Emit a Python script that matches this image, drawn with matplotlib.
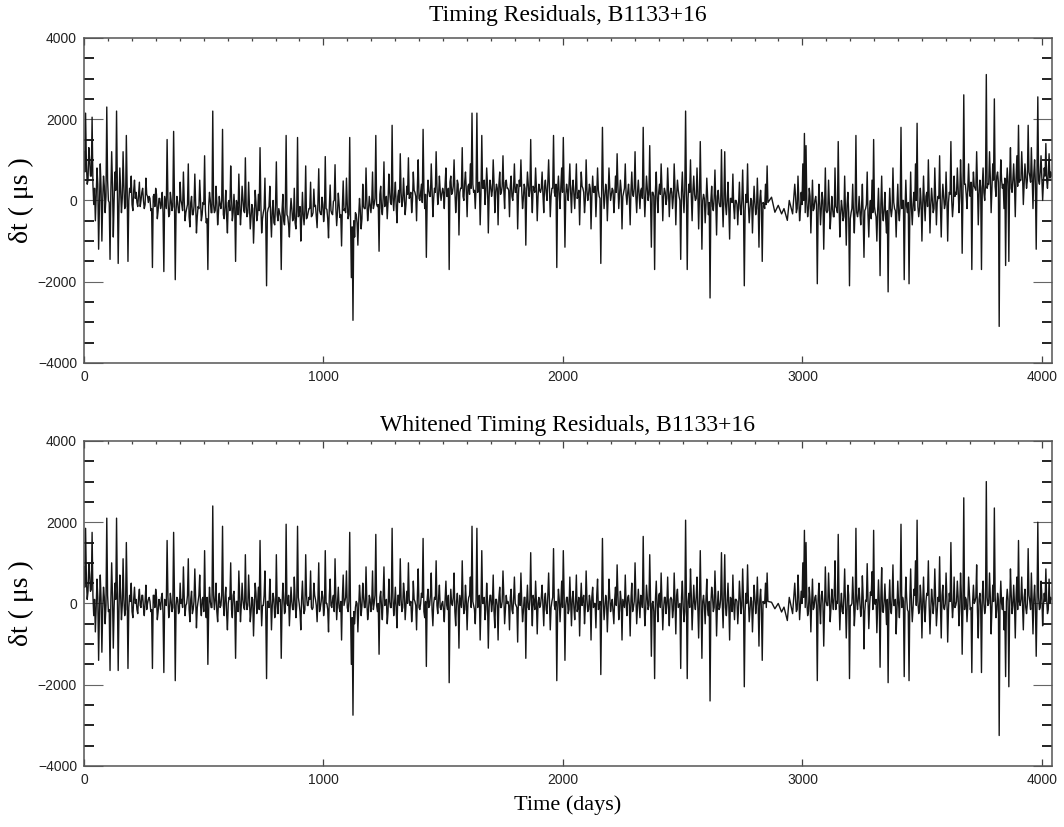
import numpy as np
import matplotlib.pyplot as plt
from matplotlib.ticker import MultipleLocator

plt.rcParams['font.family'] = 'Liberation Serif'

# timing residuals in microseconds, one row per ~136 days
res_early = [
    1200, 2150, 400, 1300, 600, 2050, -100, -500, 800, -1200, 900, -1000, 600, -300, 2300, 0, -1450, 1200, -900, 700,
    2200, -1550, 800, -300, 1200, -200, 1600, -1500, 300, 600, -250, 500, 200, -150, 450, 0, 300, -200, 550, 100,
    100, -250, -1650, 150, 300, -450, 50, -200, 200, -1750, -50, 1500, -400, 200, -250, 1700, -1950, 100, -300, 450,
    -100, 700, -500, -200, 900, -650, 100, -350, 650, -800, -150, 500, -500, -50, 1100, -550, -1700, 200, -300, 2200,
    -300, 350, -600, 100, -200, 1750, -450, 250, -800, 0, 850, -500, 150, -1500, -100, 650, -600, 350, -250, 1050,
    -400, 450, -700, -100, -1050, 250, -500, 150, 1300, -800, -300, 550, -2100, -200, 350, -900, 0, -600, 950, -500,
    -300, -1700, 150, -600, 1600, -400, -900, 50, -500, 300, -700, 1550, -350, -1000, 200, -600, 850, -400, -200, 450,
    -370, 280, -120, -670, 780, -320, 80, -520, 1080, -220, -920, 380, -320, -20, 880, -620, 180, -420, -1120, 480,
    -200, 550, -450, 1550, -1900, -2950, -900, -350, -1100, 50, -700, 400, -200, 800, -500, 100, -300, 700, -100, 1600,
    -150, -1250, 350, -350, 950, 50, -450, 650, -50, 1850, -250, 450, -550, 250, 1150, -150, 550, -350, 350, 1050,
    100, -300, 700, 200, -500, 1000, 0, 400, 1750, -200, -1400, 500, 100, 900, -400, 300, 1200, -100, 600, 0,
    300, -200, 800, 100, -1700, 600, 200, 1000, -300, 500, -850, 300, 1300, 0, 700, -400, 400, 900, 2150, 200,
    -200, 2150, 400, -600, 1600, 300, -100, 800, -800, 500, 100, 1000, -300, 400, -600, 700, 200, 1100, -200, 500,
    300, -400, 600, 0, 900, 200, -700, 500, 1000, -200, 400, -1100, 700, 100, 1500, -300, 300, 800, -500, 400,
    200, 700, -300, 500, 0, 1000, -400, 300, 1600, 100, -1650, 600, -200, 800, 1550, -1150, 400, 0, 900, -300,
    500, -200, 900, 100, -600, 700, 300, -300, 1000, 0, 400, -700, 600, 200, -400, 800, 100, -1550, 1800, -200,
    400, -500, 800, 0, 300, -300, 600, 1150, -200, 500, -700, 200, 900, -100, 400, -600, 700, 100, 1200, -300,
    500, -200, 300, 1800, -400, 600, 0, 1350, -1150, 200, -1700, 700, -300, 400, 900, -500, 300, -100, 800, -400,
    300, -200, 900, -600, 500, 100, -1450, 700, -300, 2200, -1700, 400, 1000, -500, 600, 0, 800, -700, 1450, -1200,
    150, -550, 550, -350, -2400, 350, -250, 750, -850, 250, -150, 1250, -650, 1200, -350, 450, -950, 50, 650, -450,
    0, -600, 450, -350, 750, -2100, 150, 900, -550, 50, -800, 350, -350, 550, -1150, 250, -1500, -100, 400, 850,
]
# epochs falling between the ones above
res_early_mid = [
    700, 900, 500, 1000, 600, 400, 300, 100, 400, -100, 300, 0, 350, 100, 500, -50, 200, 400, 0, 250,
    300, -100, 250, 50, 350, -150, 300, 0, 200, -100, 250, 50, -50, 150, -150, 200, 0, -100, 150, -50,
    50, -200, 100, -150, 150, -250, 50, -100, -300, 100, -200, 50, -350, 0, -150, 100, -250, -50, -300, 0,
    -250, 0, -300, -100, -400, -50, -350, -150, -50, -400, -200, 0, -350, -100, -250, -450, -150, 0, -300, -100,
    -250, -50, -300, -100, 0, -350, -150, -400, -50, -250, 100, -300, -200, 0, -350, -100, -250, 50, -300, -150,
    -300, -100, -400, -200, -450, -50, -350, -250, -100, -450, -200, -500, -300, -150, -400, -250, -550, -100, -350, -200,
    -400, -250, -500, -150, -350, -600, -300, -200, -450, -550, -250, -400, -150, -500, -350, -250, -450, -300, -200, -400,
    -300, -150, -400, -50, -250, -350, -100, -300, -200, -450, -150, -250, -350, 0, -200, -300, -100, -350, -150, -250,
    -300, -100, -350, -450, -650, -500, -300, -550, -400, -250, -450, -150, -200, 0, -250, -100, -50, -200, 50, -100,
    -100, 150, -200, 50, -150, 100, -50, 200, -100, 50, 150, -150, 100, -50, 200, 0, 100, -100, 150, 50,
    200, 0, 250, 100, 350, 50, 200, -50, 300, 150, 0, 250, 100, 300, 50, 200, 350, 100, 250, 150,
    200, 400, 100, 300, 450, 150, 350, 250, 50, 400, 200, 300, 100, 450, 250, 350, 150, 300, 400, 250,
    350, 200, 450, 150, 300, 500, 250, 400, 100, 350, 250, 450, 200, 300, 400, 150, 350, 250, 450, 300,
    250, 350, 100, 300, 200, 400, 150, 350, 250, 50, 300, 200, 400, 250, 150, 350, 200, 300, 100, 250,
    300, 150, 350, 200, 450, 250, 100, 300, 200, 400, 250, 150, 350, 200, 300, 100, 250, 400, 200, 300,
    150, 300, 50, 250, 150, 350, 200, 0, 250, 150, 300, 100, 200, 350, 150, 250, 50, 200, 300, 100,
    250, 100, 300, 150, 250, 50, 200, 350, 150, 250, 100, 300, 150, 200, 50, 250, 150, 300, 100, 200,
    150, 250, 50, 200, 100, 300, 150, 0, 200, 100, 250, 50, 200, 150, 300, 100, 200, 50, 250, 150,
    200, 100, 300, 150, 250, 0, 200, 100, 250, 150, 50, 200, 100, 250, 150, 50, 200, 100, 150, 0,
    50, -100, 100, -50, 0, -150, 50, -100, 100, -50, -150, 0, 50, -100, 0, -200, 50, -50, -150, 0,
    -100, -50, -200, 0, -150, -250, -50, -100, -200, 0, -150, -50, -200, -100, 0, -150, -50, -200, -100, -50,
]
res_gap = [80, -290, -120, -330, -200, -490, 0, -330]
res_late = [
    400, -300, 600, -500, 200, 900, 1650, 1350, -400, 300, -800, 500, -200, 100, -2050, 400, -600, 200, -1200, 800,
    -300, 500, -700, 100, -400, 800, -200, 1450, -900, 0, -500, 600, -1100, 200, -2100, -300, 400, -800, 1600, -400,
    100, -600, 400, -1400, -200, 700, -900, 0, 500, 1500, -300, -1000, 300, -1850, 600, -500, 200, -800, -2250, 300,
    -400, 800, -200, -900, 400, -500, 1800, 0, -1950, 500, -300, -2050, 700, -600, 200, 900, 1900, -400, 300, -1000,
    600, -500, 200, 1000, -800, 300, -300, 800, -600, 100, 1100, -900, 400, -200, 700, -1000, 200, 1450, -400, 600,
    200, 800, -300, 1000, -1300, 2600, 400, -200, 900, 100, -1700, 700, 300, 1200, -600, 500, -1700, 800, 0, 3100,
    400, 1200, -300, 900, 2500, 100, 700, -3100, 1000, 300, -200, -1600, 800, -1500, 1300, 200, 900, -400, 1100, 1850,
    500, 1200, -100, 900, 300, 1850, 600, 1300, -200, 1000, -1200, 2550, 400, 1100, 0, 800, 1400, 300, 1150, 700,
]
res_late_mid = [
    100, -200, 50, -250, -100, 0, -300, -50, -200, 100, -150, -250, 0, -100, -300, -50, -200, 0, -150, -250,
    -250, -100, -350, -200, -400, -150, -300, -50, -350, -200, -400, -250, -100, -300, -450, -200, -350, -150, -300, -250,
    -300, -150, -400, -250, -100, -350, -200, -450, -300, -150, -400, -250, -350, -100, -300, -200, -450, -250, -350, -200,
    -200, -50, -250, -150, -300, -100, -200, 0, -250, -150, -50, -300, -200, -100, -250, 0, -150, -200, -50, -100,
    -50, 100, -150, 50, -100, 0, -200, 100, -50, 50, -150, 0, 100, -100, 50, -50, 150, 0, -100, 100,
    150, 300, 100, 350, 200, 400, 150, 300, 250, 450, 200, 350, 250, 400, 150, 300, 350, 200, 400, 300,
    400, 550, 300, 500, 350, 600, 450, 250, 500, 400, 550, 350, 450, 600, 300, 500, 400, 550, 350, 450,
    500, 650, 400, 600, 500, 700, 450, 550, 650, 400, 600, 500, 700, 550, 450, 600, 500, 650, 550, 600,
]

# the same residuals after whitening
wht_early = [
    900, 1850, 100, 1000, 300, 1750, -300, -700, 600, -1400, 700, -1200, 400, -500, 2100, -200, -1650, 1000, -1100, 500,
    2100, -1650, 700, -400, 1100, -300, 1500, -1600, 200, 500, -350, 400, 100, -250, 350, -100, 200, -300, 450, 0,
    150, -200, -1600, 200, 350, -400, 100, -150, 250, -1700, 0, 1550, -350, 250, -200, 1750, -1900, 150, -250, 500,
    100, 900, -300, 0, 1100, -450, 300, -150, 850, -600, 50, 700, -300, 150, 1300, -350, -1500, 400, -100, 2400,
    -150, 500, -450, 250, -50, 1900, -300, 400, -650, 150, 1000, -350, 300, -1350, 50, 800, -450, 500, -100, 1200,
    -150, 700, -450, 150, -800, 500, -250, 400, 1550, -550, -50, 800, -1850, 50, 600, -650, 250, -350, 1200, -250,
    50, -1350, 500, -250, 1950, -50, -550, 400, -150, 650, -350, 1900, 0, -650, 550, -250, 1200, -50, 150, 800,
    -150, 500, 100, -450, 1000, -100, 300, -300, 1300, 0, -700, 600, -100, 200, 1100, -400, 400, -200, -900, 700,
    50, 800, -200, 1750, -1500, -2750, -500, 50, -700, 450, -300, 500, -100, 900, -400, 200, -200, 800, 0, 1700,
    -200, -1250, 300, -400, 900, 0, -500, 600, -100, 1850, -300, 400, -600, 200, 1100, -200, 500, -400, 300, 1000,
    -50, -450, 550, 50, -650, 850, -150, 250, 1600, -350, -1550, 350, -50, 750, -550, 150, 1050, -250, 450, -150,
    50, -450, 550, -150, -1950, 350, -50, 750, -550, 250, -1100, 50, 1050, -250, 450, -650, 150, 650, 1900, -50,
    -500, 1850, 100, -900, 1300, 0, -400, 500, -1100, 200, -200, 700, -600, 100, -900, 400, -100, 800, -500, 200,
    50, -650, 350, -250, 650, -50, -950, 250, 750, -450, 150, -1350, 450, -150, 1250, -550, 50, 550, -750, 150,
    -50, 450, -550, 250, -250, 750, -650, 50, 1350, -150, -1900, 350, -450, 550, 1300, -1400, 150, -250, 650, -550,
    300, -400, 700, -100, -800, 500, 100, -500, 800, -200, 200, -900, 400, 0, -600, 600, -100, -1750, 1600, -400,
    200, -700, 600, -200, 100, -500, 400, 950, -400, 300, -900, 0, 700, -300, 200, -800, 500, -100, 1000, -500,
    350, -350, 150, 1650, -550, 450, -150, 1200, -1300, 50, -1850, 550, -450, 250, 750, -650, 150, -250, 650, -550,
    150, -350, 750, -750, 350, -50, -1600, 550, -450, 2050, -1850, 250, 850, -650, 450, -150, 650, -850, 1300, -1350,
    200, -500, 600, -300, -2400, 400, -200, 800, -800, 300, -100, 1250, -600, 1200, -300, 500, -900, 100, 700, -400,
    100, -500, 550, -250, 850, -2050, 250, 950, -450, 150, -700, 450, -250, 650, -1050, 350, -1400, 0, 500, 750,
]
wht_early_mid = [
    400, 600, 300, 700, 350, 200, 100, -100, 150, -200, 100, -150, 150, -50, 200, -150, 50, 200, -100, 100,
    150, -100, 200, -50, 100, -150, 250, -100, 50, -200, 100, 0, -150, 150, -50, 200, -100, 50, -150, 100,
    50, -150, 200, -100, 150, -200, 0, 150, -250, 100, -50, 200, -150, 50, -100, 250, -50, 100, -200, 0,
    -100, 150, -50, 200, -150, 100, -250, 50, 150, -100, 200, -50, 100, -200, 0, 150, -150, 50, -100, 200,
    100, -200, 50, -100, 200, -50, 150, -250, 0, 100, -150, 200, -100, 50, -200, 150, -50, 100, -150, 50,
    -50, 150, -200, 100, -100, 250, 0, -150, 100, -50, 200, -200, 50, -100, 150, -50, 100, -250, 0, 150,
    100, -50, 150, -200, 0, 200, -100, 50, -150, 100, -50, 150, -200, 100, 0, -150, 200, -50, 100, -100,
    -100, 200, -50, 100, -200, 50, 150, -100, 0, -150, 200, -50, 100, -200, 150, 0, -100, 50, 150, -50,
    150, -100, 50, -200, -350, -200, -100, 0, -150, 100, -50, 150, -100, 50, -200, 100, 0, -150, 200, -50,
    0, 150, -100, 200, -50, 100, -200, 50, -100, 150, 0, -150, 200, -50, 100, -100, 250, -50, 0, 100,
    50, -150, 100, -50, 200, -100, 0, 150, -200, 50, 100, -100, 200, -150, 0, 100, -50, 150, -100, 0,
    -150, 100, -50, 200, -100, 0, 150, -200, 50, -50, 200, -100, 100, -150, 50, 0, 200, -100, 50, -150,
    100, -100, 200, -50, 0, 150, -150, 50, -100, 200, 0, -200, 100, -50, 150, -100, 50, 200, -150, 0,
    -50, 150, -150, 100, 0, -100, 200, -50, 50, -200, 150, 0, -100, 100, -50, 200, -150, 50, 0, -100,
    150, -50, 100, -150, 200, 0, -100, 150, -50, 50, -200, 100, 0, -100, 200, -50, 150, -150, 50, 100,
    -100, 50, -200, 150, 0, -50, 200, -100, 100, -150, 50, 150, -100, 0, 200, -150, 50, -50, 100, -100,
    50, -100, 150, 0, -200, 100, -50, 200, -150, 50, 100, -100, 0, 150, -50, 100, -200, 50, 150, -50,
    0, 200, -100, 50, -150, 150, -50, 100, 0, -200, 100, -50, 200, -100, 50, -150, 150, 0, -100, 100,
    100, -150, 50, 200, -100, 0, 150, -50, -200, 100, 50, -100, 200, -50, 0, 150, -150, 100, -50, 50,
    -50, 100, -150, 50, 0, 200, -100, 150, -50, -150, 100, 0, 200, -100, 50, -50, 150, -200, 0, 100,
    50, -100, 150, -50, 100, -200, 0, 100, -150, 50, -100, 150, 0, -50, 100, -150, 50, 0, -100, 50,
]
wht_gap = [30, -130, 0, -210, -90, -420, 150, -250]
wht_late = [
    500, -200, 700, -400, 300, 1000, 1800, 1500, -300, 400, -700, 600, -100, 200, -1900, 500, -500, 300, -1050, 900,
    -50, 750, -450, 350, -150, 1050, 50, 1700, -650, 250, -250, 850, -850, 450, -1850, -50, 650, -550, 1850, -150,
    380, -320, 680, -1120, 80, 980, -620, 280, 780, 1800, -20, -720, 580, -1570, 880, -220, 480, -520, -1950, 580,
    -250, 950, -50, -750, 550, -350, 1950, 150, -1800, 650, -150, -1900, 850, -450, 350, 1050, 2050, -250, 450, -850,
    650, -450, 250, 1050, -750, 350, -250, 850, -550, 150, 1150, -850, 450, -150, 750, -950, 250, 1500, -350, 650,
    -50, 550, -550, 750, -1250, 2600, 150, -450, 650, -150, -1700, 450, 50, 950, -850, 250, -1700, 550, -250, 3000,
    -50, 750, -750, 450, 2350, -350, 250, -3250, 550, -150, -650, -1800, 350, -2050, 850, -250, 450, -850, 650, 1550,
    -50, 650, -650, 350, -250, 1350, 50, 750, -750, 450, -1300, 2000, -150, 550, -550, 250, 850, -250, 600, 150,
]
wht_late_mid = [
    100, -150, 200, -50, 0, 150, -100, 50, -200, 100, 0, -150, 150, -50, 100, -100, 200, 0, -150, 50,
    -50, 150, -100, 50, 200, -150, 0, 100, -50, -200, 150, 50, -100, 200, -50, 0, 100, -150, 50, 150,
    0, -100, 150, -200, 50, 100, -50, 200, -150, 0, 100, -100, 50, 150, -200, 50, -50, 100, 0, -150,
    150, -50, 100, -150, 0, 200, -100, 50, -50, 150, -200, 100, 0, -100, 200, -50, 50, -150, 100, 0,
    -100, 50, 200, -50, -150, 100, 0, 150, -200, 50, -50, 200, -100, 0, 150, -150, 50, 100, -50, -100,
    50, 150, -100, 200, 0, -150, 100, -50, 250, -100, 50, 0, 150, -200, 100, -50, 200, 0, -100, 150,
    0, 150, -100, 50, 200, -150, 100, -50, 0, 150, -200, 50, 100, -100, 200, -50, 0, 150, -150, 50,
    100, -50, 150, -100, 0, 200, -150, 50, 100, -50, 0, 150, -100, 200, -50, 50, 100, -150, 0, 100,
]

# observing epochs (days); sparse coverage between the two dense stretches
days_gap = [2871, 2885, 2899, 2913, 2923, 2937, 2945, 2959]


def interleave(a, b):
    out = np.empty(len(a) + len(b))
    out[0::2] = a
    out[1::2] = b
    return out


def series(early, early_mid, gap, late, late_mid):
    y_early = interleave(early, early_mid)
    y_late = interleave(late, late_mid)
    x = np.concatenate([np.linspace(0, 2856, len(y_early)), days_gap,
                        np.linspace(2968, 4040, len(y_late))])
    return x, np.concatenate([y_early, gap, y_late])


fig = plt.figure(figsize=(10.64, 8.27), dpi=100)
ax1 = fig.add_axes([0.0789, 0.5611, 0.9098, 0.393])
ax2 = fig.add_axes([0.0789, 0.0738, 0.9098, 0.393])


def style_axis(ax):
    ax.set_xlim(0, 4042)
    ax.set_ylim(-4000, 4000)
    ax.xaxis.set_major_locator(MultipleLocator(1000))
    ax.xaxis.set_minor_locator(MultipleLocator(100))
    ax.yaxis.set_major_locator(MultipleLocator(2000))
    ax.yaxis.set_minor_locator(MultipleLocator(500))
    ax.tick_params(axis='x', which='major', direction='in', top=True, length=5, width=0.9, color='#444')
    ax.tick_params(axis='x', which='minor', direction='in', bottom=False, top=True, length=2.5, width=0.9, color='#444')
    ax.tick_params(axis='y', which='major', direction='in', right=True, length=14, width=0.8, color='#666')
    ax.tick_params(axis='y', which='minor', direction='in', right=True, length=7, width=1.3, color='#111')
    ax.tick_params(which='both', labelsize=10, labelcolor='#222', pad=5, labelfontfamily='Liberation Sans')
    for sp in ax.spines.values():
        sp.set_color('#555')
        sp.set_linewidth(1.1)
    ax.set_ylabel('δt ( μs )', fontsize=20)
    ax.yaxis.set_label_coords(-0.052, 0.5)


x1, y1 = series(res_early, res_early_mid, res_gap, res_late, res_late_mid)
x2, y2 = series(wht_early, wht_early_mid, wht_gap, wht_late, wht_late_mid)
ax1.plot(x1, y1, color='#161616', lw=1.0)
ax2.plot(x2, y2, color='#161616', lw=1.0)
style_axis(ax1)
style_axis(ax2)

fig.text(0.5338, 1 - 21 / 827, 'Timing Residuals, B1133+16', ha='center', va='baseline', fontsize=17)
fig.text(0.5338, 1 - 431 / 827, 'Whitened Timing Residuals, B1133+16', ha='center', va='baseline', fontsize=17)
fig.text(0.5338, 1 - 805 / 827, 'Time (days)', ha='center', va='center', fontsize=16)

fig.savefig('out.png', dpi=100)
